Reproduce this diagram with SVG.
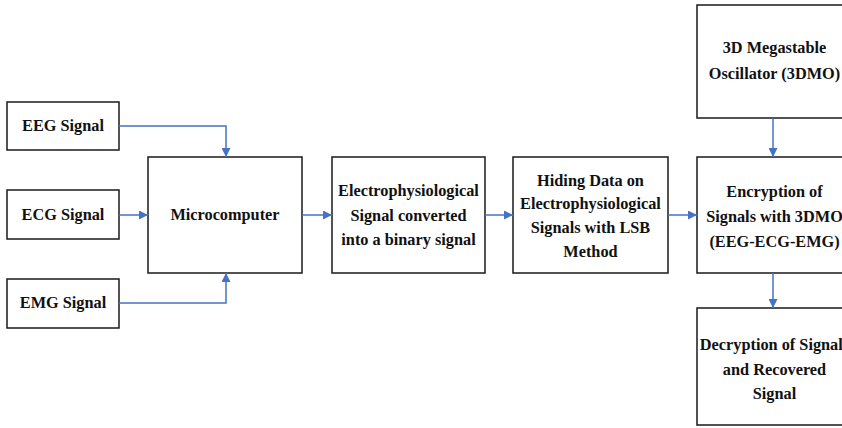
<svg xmlns="http://www.w3.org/2000/svg" width="842" height="428" viewBox="0 0 842 428">
  <style>
    .box { fill: #ffffff; stroke: #1a1a1a; stroke-width: 1.5; }
    .lbl { font-weight: bold; font-size: 16.3px; fill: #111111; text-anchor: middle; }
    .edge { fill: none; stroke: #4472C4; stroke-width: 1.5; marker-end: url(#arrow); }
  </style>
  <defs>
    <marker id="arrow" viewBox="0 0 10 10" refX="10" refY="5" markerWidth="9" markerHeight="9" markerUnits="userSpaceOnUse" orient="auto">
      <path d="M0,0 L10,5 L0,10 z" fill="#4472C4"/>
    </marker>
  </defs>
  <rect width="842" height="428" fill="#ffffff"/>

  <g font-family="Liberation Serif, DejaVu Serif, serif">
  <g id="eeg">
    <rect class="box" x="7" y="102" width="112" height="48"/>
    <text class="lbl" x="63" y="131">EEG Signal</text>
  </g>
  <g id="ecg">
    <rect class="box" x="7" y="190" width="112" height="49"/>
    <text class="lbl" x="63" y="220">ECG Signal</text>
  </g>
  <g id="emg">
    <rect class="box" x="7" y="279" width="112" height="49"/>
    <text class="lbl" x="63" y="308">EMG Signal</text>
  </g>
  <g id="microcomputer">
    <rect class="box" x="148" y="157" width="154" height="116"/>
    <text class="lbl" x="225" y="220">Microcomputer</text>
  </g>
  <g id="binary">
    <rect class="box" x="332" y="157" width="153" height="116"/>
    <text class="lbl" x="408.5" y="196">Electrophysiological</text>
    <text class="lbl" x="408.5" y="221">Signal converted</text>
    <text class="lbl" x="408.5" y="245">into a binary signal</text>
  </g>
  <g id="lsb">
    <rect class="box" x="513" y="157" width="155" height="116"/>
    <text class="lbl" x="590.5" y="186">Hiding Data on</text>
    <text class="lbl" x="590.5" y="209">Electrophysiological</text>
    <text class="lbl" x="590.5" y="233">Signals with LSB</text>
    <text class="lbl" x="590.5" y="257">Method</text>
  </g>
  <g id="oscillator">
    <rect class="box" x="697" y="5" width="152" height="113"/>
    <text class="lbl" x="774.5" y="53">3D Megastable</text>
    <text class="lbl" x="774.5" y="79">Oscillator (3DMO)</text>
  </g>
  <g id="encryption">
    <rect class="box" x="697" y="157" width="152" height="116"/>
    <text class="lbl" x="774.5" y="197">Encryption of</text>
    <text class="lbl" x="774.5" y="222">Signals with 3DMO</text>
    <text class="lbl" x="774.5" y="247">(EEG-ECG-EMG)</text>
  </g>
  <g id="decryption">
    <rect class="box" x="697" y="308" width="152" height="117"/>
    <text class="lbl" x="774.5" y="350">Decryption of Signals</text>
    <text class="lbl" x="774.5" y="375">and Recovered</text>
    <text class="lbl" x="774.5" y="399">Signal</text>
  </g>
  </g>

  <g id="connectors">
    <path class="edge" d="M119,126 H226 V157"/>
    <path class="edge" d="M119,215 H148"/>
    <path class="edge" d="M119,303 H226 V273"/>
    <path class="edge" d="M302,215 H332"/>
    <path class="edge" d="M485,215 H513"/>
    <path class="edge" d="M668,215 H697"/>
    <path class="edge" d="M773,118 V157"/>
    <path class="edge" d="M773,273 V308"/>
  </g>
</svg>
